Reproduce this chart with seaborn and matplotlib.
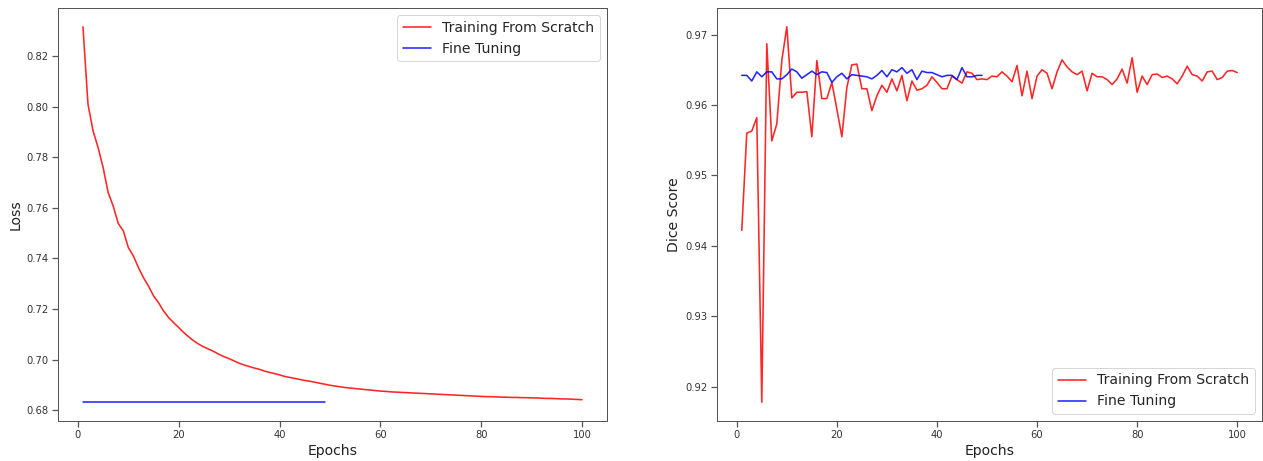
import numpy as np
import pandas as pd
import matplotlib
matplotlib.use("Agg")
import matplotlib.pyplot as plt
import seaborn as sns

# ---------------- data ----------------
epochs_scratch = list(range(1, 101))
epochs_finetune = list(range(1, 50))

loss_scratch = [
    0.8315, 0.8009, 0.7904, 0.7838, 0.7759, 0.7660, 0.7607, 0.7538, 0.7509, 0.7443,
    0.7410, 0.7364, 0.7324, 0.7291, 0.7252, 0.7225, 0.7192, 0.7166, 0.7146, 0.7127,
    0.7107, 0.7090, 0.7074, 0.7061, 0.7050, 0.7041, 0.7032, 0.7021, 0.7012, 0.7004,
    0.6995, 0.6986, 0.6979, 0.6973, 0.6967, 0.6962, 0.6955, 0.6950, 0.6945, 0.6940,
    0.6934, 0.6930, 0.6926, 0.6922, 0.6918, 0.6915, 0.6911, 0.6907, 0.6903, 0.6899,
    0.6896, 0.6893, 0.6890, 0.6888, 0.6886, 0.6884, 0.6882, 0.6880, 0.6878, 0.6876,
    0.6875, 0.6873, 0.6872, 0.6871, 0.6870, 0.6869, 0.6868, 0.6867, 0.6866, 0.6865,
    0.6864, 0.6863, 0.6862, 0.6861, 0.6860, 0.6859, 0.6858, 0.6857, 0.6856, 0.6855,
    0.6854, 0.6854, 0.6853, 0.6852, 0.6852, 0.6851, 0.6851, 0.6850, 0.6850, 0.6849,
    0.6849, 0.6848, 0.6847, 0.6847, 0.6846, 0.6845, 0.6845, 0.6844, 0.6843, 0.6842,
]
loss_finetune = [
    0.6832, 0.6832, 0.6832, 0.6832, 0.6832, 0.6832, 0.6832, 0.6832, 0.6832, 0.6832,
    0.6832, 0.6832, 0.6832, 0.6832, 0.6832, 0.6832, 0.6832, 0.6832, 0.6832, 0.6832,
    0.6832, 0.6832, 0.6832, 0.6832, 0.6832, 0.6832, 0.6832, 0.6832, 0.6832, 0.6832,
    0.6832, 0.6832, 0.6832, 0.6832, 0.6832, 0.6832, 0.6832, 0.6832, 0.6832, 0.6832,
    0.6832, 0.6832, 0.6832, 0.6832, 0.6832, 0.6832, 0.6832, 0.6832, 0.6832,
]

dice_scratch = [
    0.9422, 0.9560, 0.9563, 0.9582, 0.9178, 0.9687, 0.9549, 0.9573, 0.9663, 0.9711,
    0.9610, 0.9618, 0.9618, 0.9619, 0.9555, 0.9663, 0.9609, 0.9609, 0.9632, 0.9594,
    0.9555, 0.9625, 0.9657, 0.9658, 0.9623, 0.9623, 0.9592, 0.9613, 0.9628, 0.9618,
    0.9637, 0.9620, 0.9642, 0.9606, 0.9634, 0.9621, 0.9623, 0.9628, 0.9640, 0.9632,
    0.9623, 0.9623, 0.9641, 0.9636, 0.9631, 0.9647, 0.9645, 0.9636, 0.9637, 0.9636,
    0.9641, 0.9640, 0.9647, 0.9641, 0.9633, 0.9656, 0.9613, 0.9648, 0.9609, 0.9641,
    0.9650, 0.9645, 0.9623, 0.9647, 0.9664, 0.9654, 0.9647, 0.9643, 0.9648, 0.9620,
    0.9645, 0.9640, 0.9640, 0.9636, 0.9629, 0.9637, 0.9651, 0.9631, 0.9667, 0.9618,
    0.9641, 0.9629, 0.9643, 0.9644, 0.9639, 0.9641, 0.9637, 0.9630, 0.9641, 0.9655,
    0.9643, 0.9641, 0.9634, 0.9647, 0.9648, 0.9636, 0.9639, 0.9648, 0.9649, 0.9646,
]
dice_finetune = [
    0.9642, 0.9642, 0.9634, 0.9647, 0.9640, 0.9647, 0.9647, 0.9637, 0.9637, 0.9643,
    0.9651, 0.9647, 0.9638, 0.9643, 0.9648, 0.9643, 0.9647, 0.9646, 0.9632, 0.9640,
    0.9645, 0.9637, 0.9643, 0.9642, 0.9641, 0.9640, 0.9637, 0.9642, 0.9649, 0.9640,
    0.9650, 0.9647, 0.9653, 0.9645, 0.9650, 0.9636, 0.9648, 0.9646, 0.9646, 0.9643,
    0.9640, 0.9642, 0.9642, 0.9636, 0.9653, 0.9640, 0.9640, 0.9642, 0.9642,
]

label_scratch = "Training From Scratch"
label_finetune = "Fine Tuning"
xticks = [0, 20, 40, 60, 80, 100]
loss_yticks = [0.68, 0.70, 0.72, 0.74, 0.76, 0.78, 0.80, 0.82]
dice_yticks = [0.92, 0.93, 0.94, 0.95, 0.96, 0.97]

# ---------------- style ----------------
sns.set_theme(style="ticks", rc={
    "axes.edgecolor": "#555555",
    "axes.linewidth": 1.0,
    "xtick.color": "#555555",
    "ytick.color": "#555555",
    "xtick.labelcolor": "#333333",
    "ytick.labelcolor": "#333333",
    "xtick.labelsize": 10,
    "ytick.labelsize": 10,
    "axes.labelsize": 14,
    "legend.fontsize": 14,
})
plt.rcParams["font.family"] = ["DejaVu Sans"]

fig = plt.figure(figsize=(1263 / 72, 461 / 72), dpi=72)
ax1 = fig.add_axes([58 / 1263, 1 - 421 / 461, (607 - 58) / 1263, (421 - 8) / 461])
ax2 = fig.add_axes([717 / 1263, 1 - 421 / 461, (1262 - 717) / 1263, (421 - 8) / 461])

df_loss_s = pd.DataFrame({"Epochs": epochs_scratch, "val": loss_scratch})
df_loss_f = pd.DataFrame({"Epochs": epochs_finetune, "val": loss_finetune})
df_dice_s = pd.DataFrame({"Epochs": epochs_scratch, "val": dice_scratch})
df_dice_f = pd.DataFrame({"Epochs": epochs_finetune, "val": dice_finetune})

for ax, ds, dfin, ylab, yt in [
    (ax1, df_loss_s, df_loss_f, "Loss", loss_yticks),
    (ax2, df_dice_s, df_dice_f, "Dice Score", dice_yticks),
]:
    sns.lineplot(data=ds, x="Epochs", y="val", ax=ax, color="red", alpha=0.85,
                 linewidth=1.6, label=label_scratch)
    sns.lineplot(data=dfin, x="Epochs", y="val", ax=ax, color="blue", alpha=0.85,
                 linewidth=1.6, label=label_finetune)
    ax.set_xlabel("Epochs", fontsize=14, color="#222222")
    ax.set_ylabel(ylab, fontsize=14, color="#222222")
    ax.set_xticks(xticks)
    ax.set_yticks(yt)
    ax.set_yticklabels([f"{v:.2f}" for v in yt])
    ax.margins(x=0.05, y=0.05)
    for s in ax.spines.values():
        s.set_visible(True)

ax1.legend(loc="upper right", fontsize=14, frameon=True)
ax2.legend(loc="lower right", fontsize=14, frameon=True)

fig.savefig("out.png", dpi=72)
